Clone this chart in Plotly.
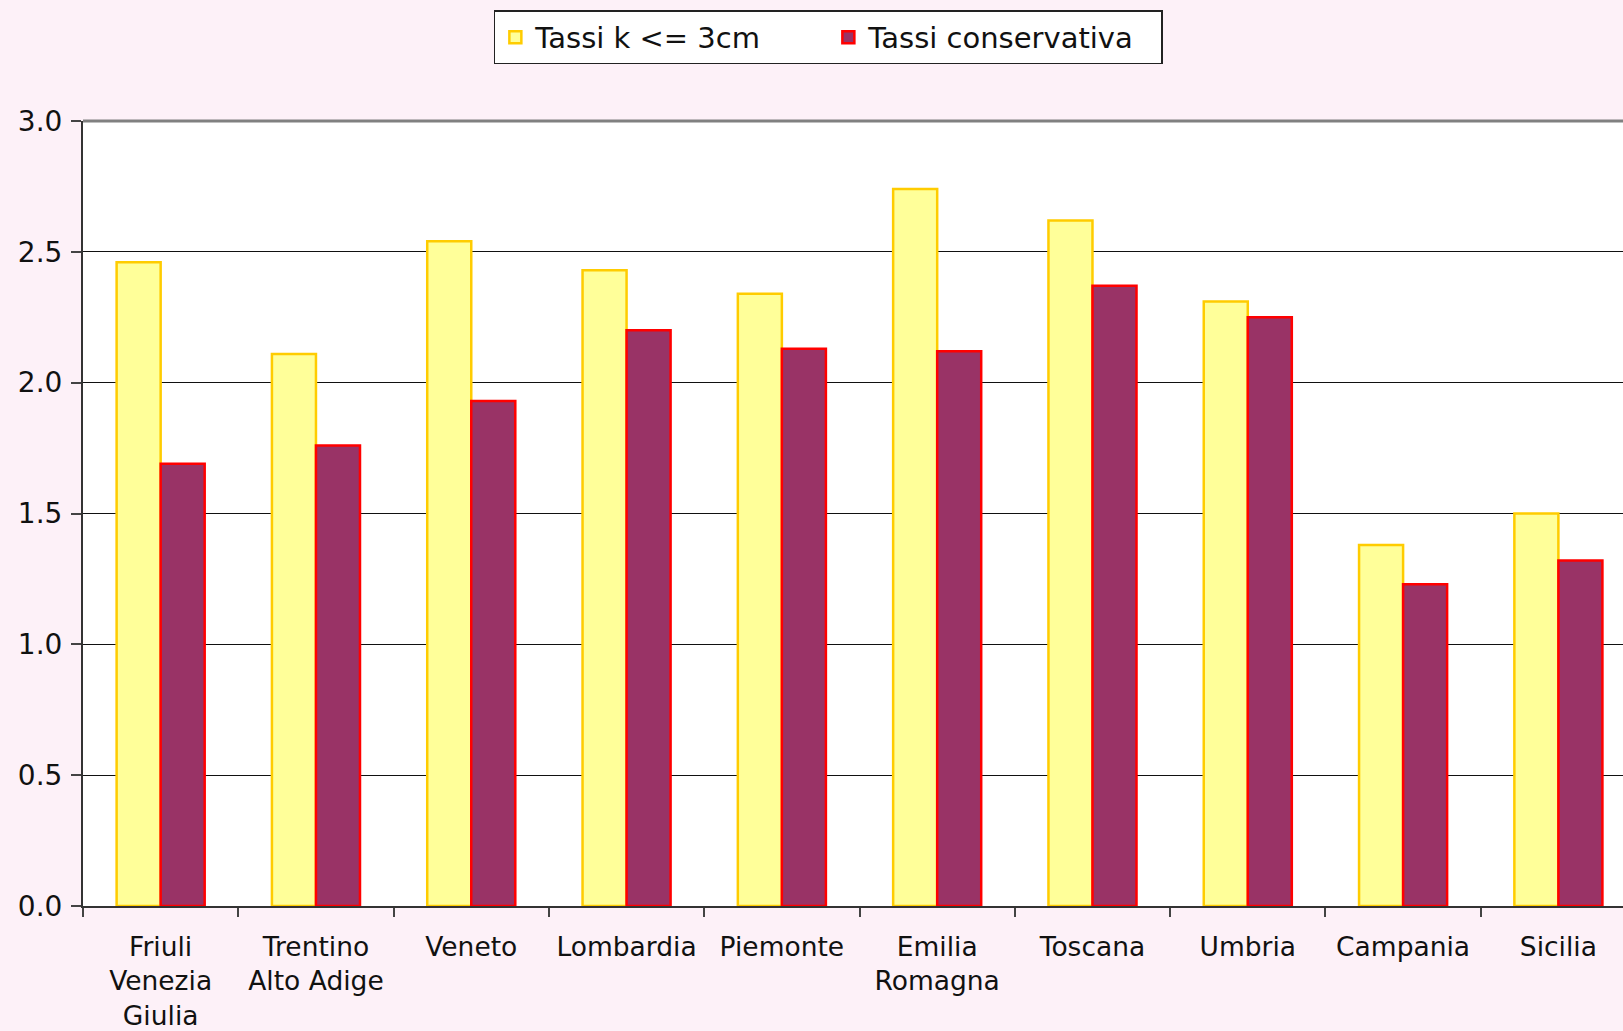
import plotly.graph_objects as go

regions = ["Friuli<br>Venezia<br>Giulia", "Trentino<br>Alto Adige", "Veneto", "Lombardia",
           "Piemonte", "Emilia<br>Romagna", "Toscana", "Umbria", "Campania", "Sicilia"]
tassi_k3 = [2.46, 2.11, 2.54, 2.43, 2.34, 2.74, 2.62, 2.31, 1.38, 1.50]
tassi_cons = [1.69, 1.76, 1.93, 2.20, 2.13, 2.12, 2.37, 2.25, 1.23, 1.32]
y_ticks = [0.0, 0.5, 1.0, 1.5, 2.0, 2.5, 3.0]

FONT = "DejaVu Sans"

fig = go.Figure()
fig.add_trace(go.Bar(
    x=regions, y=tassi_k3, name="Tassi k <= 3cm",
    marker=dict(color="#FFFF99", line=dict(color="#FFCC00", width=2.5)),
))
fig.add_trace(go.Bar(
    x=regions, y=tassi_cons, name="Tassi conservativa",
    marker=dict(color="#993366", line=dict(color="#FF0000", width=2.5)),
))

fig.update_layout(
    width=1623, height=1031,
    margin=dict(l=83, r=0, t=121, b=125),
    paper_bgcolor="#fdf1f8",
    plot_bgcolor="#ffffff",
    barmode="group",
    bargap=0.433,
    bargroupgap=0,
    font=dict(family=FONT, color="#111111"),
    showlegend=True,
    legend=dict(
        orientation="h",
        x=0.484, xanchor="center",
        y=1.141, yanchor="top",
        bgcolor="#ffffff",
        bordercolor="#222222", borderwidth=1.5,
        font=dict(family=FONT, size=29, color="#111111"),
        itemwidth=30,
        entrywidth=288, entrywidthmode="pixels",
        tracegroupgap=0,
    ),
    xaxis=dict(
        type="category",
        range=[-0.5, 9.416],
        tickson="boundaries",
        ticks="outside", ticklen=9, tickwidth=1.5, tickcolor="#444444",
        showline=True, linecolor="#333333", linewidth=2,
        showgrid=False,
        tickfont=dict(family=FONT, size=26.5, color="#111111"),
        ticklabelstandoff=16,
        tickangle=0,
    ),
    yaxis=dict(
        range=[0, 3.0],
        tickvals=y_ticks,
        tickformat=".1f",
        ticks="outside", ticklen=10, tickwidth=1.5, tickcolor="#444444",
        showline=True, linecolor="#333333", linewidth=2,
        showgrid=True, gridcolor="#111111", gridwidth=1.3,
        zeroline=False,
        tickfont=dict(family=FONT, size=28, color="#111111"),
        ticklabelstandoff=3,
    ),
)

# grey top border of the plot area
fig.add_shape(type="line", xref="paper", yref="paper", x0=0, x1=1, y0=1, y1=1,
              line=dict(color="#808080", width=3))

fig.write_html("out.html")
